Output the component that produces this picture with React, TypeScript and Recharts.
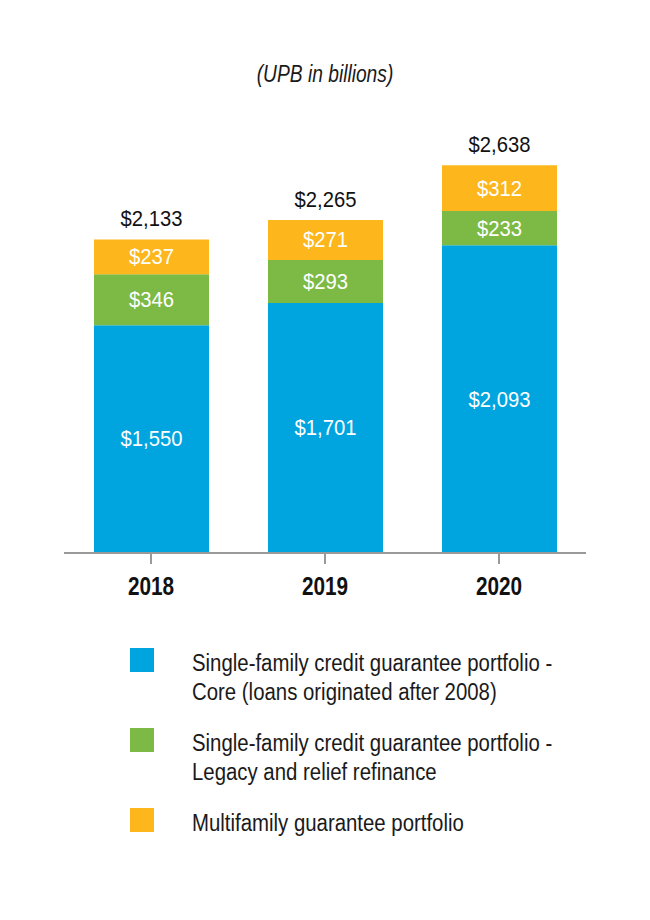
import React from 'react';
import { BarChart, Bar, XAxis, YAxis, LabelList } from 'recharts';

const years = ['2018', '2019', '2020'];
const coreValues = [1550, 1701, 2093];
const legacyValues = [346, 293, 233];
const multifamilyValues = [237, 271, 312];
const totals = [2133, 2265, 2638];

const SERIES = [
  { key: 'core', color: '#00a5df' },
  { key: 'legacy', color: '#7cba45' },
  { key: 'multifamily', color: '#fdb61b' },
];

const legendLines = [
  ['Single-family credit guarantee portfolio -', 'Core (loans originated after 2008)'],
  ['Single-family credit guarantee portfolio -', 'Legacy and relief refinance'],
  ['Multifamily guarantee portfolio'],
];

// the original uses a condensed grotesque, so Liberation Sans gets squeezed a bit
const FONT = "'Liberation Sans', Arial, sans-serif";

const chartData = years.map((year, i) => ({
  year,
  core: coreValues[i],
  legacy: legacyValues[i],
  multifamily: multifamilyValues[i],
  total: totals[i],
}));

const money = (v: any) => '$' + String(v).replace(/\B(?=(\d{3})+(?!\d))/g, ',');

const YearTick = (props: any) => {
  const { x, y, payload } = props;
  return (
    <g transform={`translate(${x},${y})`}>
      <text
        transform="scale(0.83,1)"
        textAnchor="middle"
        dy="0.71em"
        fontSize={25}
        fontWeight="bold"
        fontFamily={FONT}
        fill="#111"
      >
        {payload.value}
      </text>
    </g>
  );
};

const makeLabel = (fill: string, mode: 'center' | 'top') => (props: any) => {
  const vb = props.viewBox && props.viewBox.width !== undefined ? props.viewBox : props;
  const x = Number(vb.x);
  const y = Number(vb.y);
  const w = Number(vb.width);
  const h = Number(vb.height);
  const cx = x + w / 2;
  const cy = mode === 'center' ? y + h / 2 : y - 13;
  return (
    <text
      transform={`translate(${cx},${cy}) scale(0.9,1)`}
      textAnchor="middle"
      dominantBaseline={mode === 'center' ? 'central' : 'alphabetic'}
      fontSize={22.5}
      fontFamily={FONT}
      fill={fill}
    >
      {money(props.value)}
    </text>
  );
};

const App: React.FC = () => {
  return (
    <div style={{ position: 'absolute', left: 0, top: 0, width: 650, height: 920, background: '#fff', fontFamily: FONT }}>
      <div
        style={{
          position: 'absolute',
          top: 62,
          left: 0,
          width: 650,
          textAlign: 'center',
          fontStyle: 'italic',
          fontSize: 24,
          lineHeight: '24px',
          color: '#1a1a1a',
          transform: 'scaleX(0.8)',
          transformOrigin: '325px 0',
        }}
      >
        (UPB in billions)
      </div>

      <div style={{ position: 'absolute', left: 0, top: 0 }}>
        <BarChart
          width={650}
          height={620}
          data={chartData}
          margin={{ top: 112, right: 64, left: 64, bottom: 27 }}
          barSize={115}
        >
          <XAxis
            dataKey="year"
            height={40}
            tickSize={11}
            tickMargin={13}
            axisLine={{ stroke: '#9a9a9a', strokeWidth: 2 }}
            tickLine={{ stroke: '#9a9a9a', strokeWidth: 2 }}
            tick={<YearTick />}
          />
          <YAxis hide domain={[0, 3000]} />
          {SERIES.map((s) => (
            <Bar key={s.key} dataKey={s.key} stackId="a" fill={s.color} isAnimationActive={false}>
              <LabelList dataKey={s.key} content={makeLabel('#fff', 'center')} />
              {s.key === 'multifamily' && <LabelList dataKey="total" content={makeLabel('#111', 'top')} />}
            </Bar>
          ))}
        </BarChart>
      </div>

      {SERIES.map((s, i) => (
        <div key={s.key} style={{ position: 'absolute', left: 130, top: 648 + i * 80 }}>
          <div style={{ position: 'absolute', left: 0, top: 0, width: 24, height: 24, background: s.color }} />
          <div
            style={{
              position: 'absolute',
              left: 62,
              top: 1,
              fontSize: 23,
              lineHeight: '29px',
              color: '#1a1a1a',
              whiteSpace: 'nowrap',
              transform: 'scaleX(0.886)',
              transformOrigin: '0 0',
            }}
          >
            {legendLines[i].map((line) => (
              <div key={line}>{line}</div>
            ))}
          </div>
        </div>
      ))}
    </div>
  );
};

export default App;
